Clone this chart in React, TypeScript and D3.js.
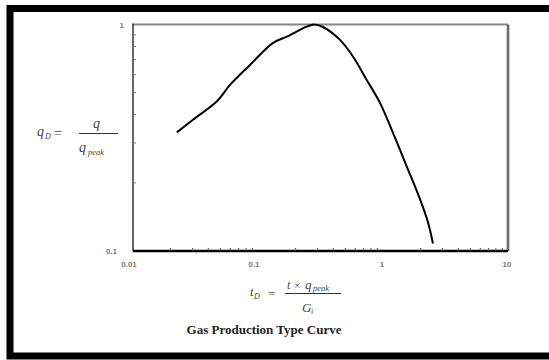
import React from "react";
import * as d3 from "d3";

const tD = [0.0224, 0.0302, 0.0467, 0.0597, 0.0863, 0.132, 0.17, 0.245, 0.28, 0.331, 0.453, 0.575, 0.741, 0.946, 1.2, 1.55, 1.98, 2.29, 2.51];
const qD = [0.334, 0.38, 0.457, 0.541, 0.663, 0.829, 0.884, 0.978, 1.0, 0.975, 0.855, 0.722, 0.569, 0.451, 0.333, 0.236, 0.169, 0.134, 0.108];
const xTicks = [0.01, 0.1, 1, 10];
const xTickLabels = ["0.01", "0.1", "1", "10"];
const yTicks = [0.1, 1];
const yTickLabels = ["0.1", "1"];
const title = "Gas Production Type Curve";

export default function App() {
  const W = 549, H = 360;
  const L = 133, R = 508, T = 24.5, B = 251;
  const x = d3.scaleLog().domain([0.01, 10]).range([L, R]);
  const y = d3.scaleLog().domain([0.1, 1]).range([B, T]);
  const pts: [number, number][] = tD.map((t, i) => [x(t), y(qD[i])]);
  const line = d3.line().curve(d3.curveCatmullRom.alpha(0.5))(pts) || "";
  const xMinor: number[] = [];
  for (let e = -2; e < 1; e++) for (let k = 2; k <= 9; k++) xMinor.push(k * Math.pow(10, e));
  const yMinor: number[] = [];
  for (let k = 2; k <= 9; k++) yMinor.push(k / 10);
  const tickFont = "Arial, 'Liberation Sans', sans-serif";
  const serif = "'Liberation Serif', 'DejaVu Serif', serif";
  return (
    <svg width={W} height={H} style={{ position: "absolute", left: 0, top: 0, background: "#fff" }}>
      <rect x={0} y={0} width={W} height={H} fill="#fff" />
      <rect x={10} y={8.5} width={545} height={347.5} fill="none" stroke="#000" strokeWidth={7} />
      {/* plot frame */}
      <line x1={L} y1={T} x2={R} y2={T} stroke="#888" strokeWidth={2} />
      <line x1={R} y1={T} x2={R} y2={B} stroke="#999" strokeWidth={3} />
      <line x1={R} y1={T} x2={R} y2={B} stroke="#444" strokeWidth={1} />
      <line x1={L} y1={T - 1} x2={L} y2={B} stroke="#000" strokeWidth={1.2} />
      <line x1={L} y1={B} x2={R} y2={B} stroke="#000" strokeWidth={2.5} />
      {xMinor.map((v, i) => (
        <line key={"xm" + i} x1={x(v)} x2={x(v)} y1={B} y2={B - 3} stroke="#555" strokeWidth={1} />
      ))}
      {yMinor.map((v, i) => (
        <line key={"ym" + i} x1={L} x2={L + 3} y1={y(v)} y2={y(v)} stroke="#777" strokeWidth={1} />
      ))}
      {xTicks.map((v, i) => (
        <text key={"xt" + i} x={x(v) - (i < 2 ? 4 : 1)} y={B + 16} textAnchor="middle" fontFamily={tickFont} fontWeight="bold" fontSize={8} fill="#777">{xTickLabels[i]}</text>
      ))}
      {yTicks.map((v, i) => (
        <text key={"yt" + i} x={L - (v < 1 ? 16 : 9)} y={y(v) + 3} textAnchor="end" fontFamily={tickFont} fontWeight="bold" fontSize={8} fill="#777">{yTickLabels[i]}</text>
      ))}
      <path d={line} fill="none" stroke="#000" strokeWidth={2} />
      {/* y label */}
      <g fontFamily={serif} fontStyle="italic" fill="#444">
        <text x={37} y={136} fontSize={14}>q</text>
        <text x={45} y={139} fontSize={8}>D</text>
        <text x={54} y={138} fontSize={14} fontStyle="normal">=</text>
        <line x1={79} x2={118} y1={133.5} y2={133.5} stroke="#333" strokeWidth={1} />
        <text x={93} y={128} fontSize={14}>q</text>
        <text x={79} y={152} fontSize={14}>q</text>
        <text x={88} y={155} fontSize={8.5}>peak</text>
      </g>
      {/* x label */}
      <g fontFamily={serif} fontStyle="italic" fill="#444">
        <text x={250} y={296} fontSize={13}>t</text>
        <text x={254} y={299} fontSize={8}>D</text>
        <text x={268} y={298} fontSize={13} fontStyle="normal">=</text>
        <line x1={285} x2={341} y1={293.5} y2={293.5} stroke="#333" strokeWidth={1} />
        <text x={287} y={289} fontSize={12}>t</text>
        <text x={294} y={289} fontSize={11} fontStyle="normal">×</text>
        <text x={305} y={289} fontSize={13}>q</text>
        <text x={313} y={291} fontSize={8.5}>peak</text>
        <text x={302} y={312} fontSize={13}>G</text>
        <text x={311} y={314} fontSize={8}>i</text>
      </g>
      <text x={264} y={334} textAnchor="middle" fontFamily={serif} fontWeight="bold" fontSize={13} fill="#222">{title}</text>
    </svg>
  );
}
